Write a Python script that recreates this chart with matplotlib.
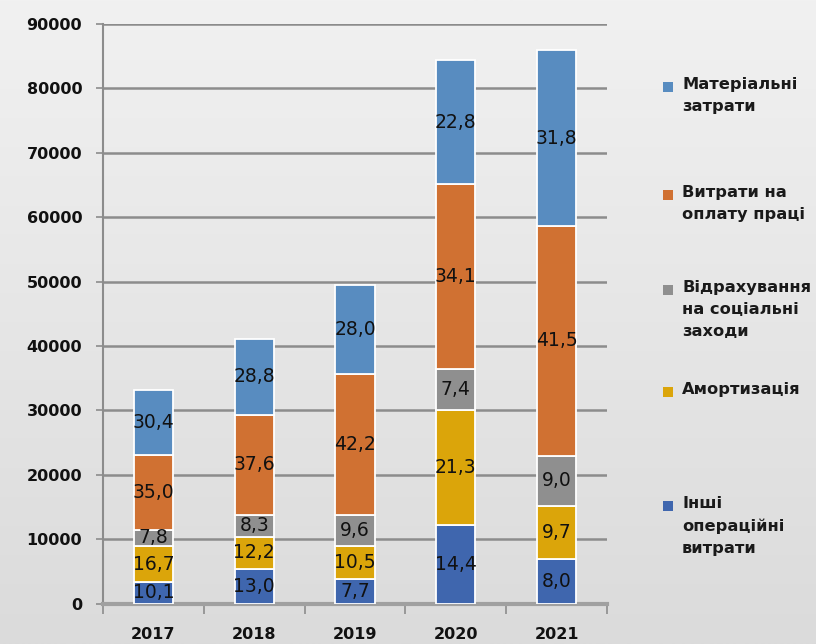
"""Stacked cost structure by year, 2017-2021 (segment labels are shares, %)."""

import matplotlib

matplotlib.use("Agg")
import matplotlib.pyplot as plt
import numpy as np
from matplotlib.patches import Rectangle

years = ["2017", "2018", "2019", "2020", "2021"]

# segment heights, bottom to top
other_ops = [3350, 5350, 3780, 12150, 6880]
amortization = [5540, 5020, 5210, 17970, 8340]
social = [2590, 3420, 4750, 6240, 7740]
labor = [11600, 15480, 21850, 28780, 35670]
materials = [10080, 11860, 13870, 19240, 27330]

# printed share labels
other_pct = ["10,1", "13,0", "7,7", "14,4", "8,0"]
amort_pct = ["16,7", "12,2", "10,5", "21,3", "9,7"]
social_pct = ["7,8", "8,3", "9,6", "7,4", "9,0"]
labor_pct = ["35,0", "37,6", "42,2", "34,1", "41,5"]
materials_pct = ["30,4", "28,8", "28,0", "22,8", "31,8"]

series = [
    ("Інші\nопераційні\nвитрати", other_ops, other_pct, "#3F66AE"),
    ("Амортизація", amortization, amort_pct, "#DBA50A"),
    ("Відрахування\nна соціальні\nзаходи", social, social_pct, "#8F8F8F"),
    ("Витрати на\nоплату праці", labor, labor_pct, "#D07132"),
    ("Матеріальні\nзатрати", materials, materials_pct, "#588CC0"),
]

W, H = 816, 644
fig = plt.figure(figsize=(W / 100, H / 100), dpi=100)

# soft vertical gradient background
bg = fig.add_axes([0, 0, 1, 1], zorder=-10)
grad = np.linspace(0xF1, 0xDB, 256)[:, None] / 255.0
bg.imshow(np.dstack([grad] * 3), aspect="auto", extent=[0, 1, 0, 1])
bg.set_axis_off()

ax = fig.add_axes([103 / W, 1 - 603.5 / H, (607 - 103) / W, (603.5 - 24) / H])
ax.patch.set_alpha(0)

x = np.arange(len(years))
bottom = np.zeros(len(years))
for name, vals, pcts, color in series:
    vals = np.asarray(vals, dtype=float)
    ax.bar(x, vals, 0.39, bottom=bottom, color=color, edgecolor="white",
           linewidth=1.3, zorder=3)
    for xi, b, v, p in zip(x, bottom, vals, pcts):
        ax.text(xi, b + v / 2, p, ha="center", va="center", fontsize=13.5,
                color="#111111", zorder=4)
    bottom += vals

ax.set_xlim(-0.5, len(years) - 0.5)
ax.set_ylim(0, 90000)
ax.set_yticks(np.arange(0, 90001, 10000))
ax.set_yticklabels([str(v) for v in range(0, 90001, 10000)])
ax.yaxis.grid(True, color="#8C8C8C", linewidth=1.8, zorder=0)
ax.set_axisbelow(True)

ax.set_xticks(x)
ax.set_xticklabels(years)
ax.set_xticks(np.arange(-0.5, len(years)), minor=True)
ax.tick_params(axis="x", which="major", length=0, pad=17)
ax.tick_params(axis="x", which="minor", length=7, width=1.2, color="#8C8C8C")
ax.tick_params(axis="y", length=5, width=1.2, color="#8C8C8C", pad=10)
for lab in ax.get_xticklabels() + ax.get_yticklabels():
    lab.set_fontweight("bold")
    lab.set_fontsize(11.5)
    lab.set_color("#111111")

for side in ("top", "right"):
    ax.spines[side].set_visible(False)
ax.spines["left"].set_color("#8C8C8C")
ax.spines["left"].set_linewidth(1.5)
ax.spines["bottom"].set_color("#A0A0A0")
ax.spines["bottom"].set_linewidth(3)

# legend drawn by hand so the swatch sits on the first line of each label
legend_rows = [(series[4], 87), (series[3], 195), (series[2], 290),
               (series[1], 392), (series[0], 506)]
for (name, _, _, color), ypix in legend_rows:
    fig.patches.append(Rectangle((663 / W, 1 - (ypix + 5) / H), 10 / W, 10 / H,
                                 transform=fig.transFigure, facecolor=color,
                                 edgecolor="none"))
    fig.text(682 / W, 1 - (ypix - 10) / H, name, ha="left", va="top",
             fontsize=11.7, fontweight="bold", color="#1A1A1A", linespacing=1.6)

fig.savefig("out.png", dpi=100)
